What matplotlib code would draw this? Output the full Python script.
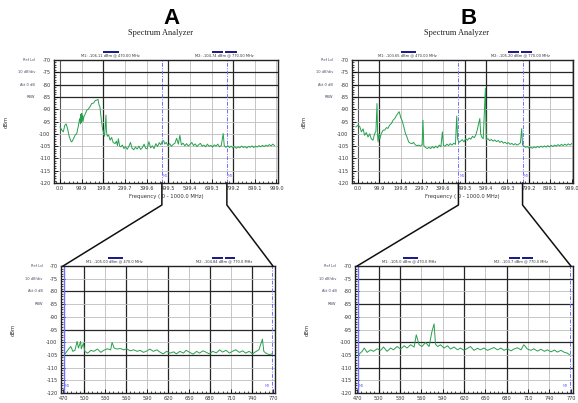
import matplotlib
matplotlib.use("Agg")
import matplotlib.pyplot as plt
from matplotlib.lines import Line2D
from matplotlib.patches import Rectangle
from matplotlib.ticker import AutoMinorLocator

# ---------------- data ----------------
panel_letters = ["A", "B"]
panel_title = "Spectrum Analyzer"
y_ticks = [-70, -75, -80, -85, -90, -95, -100, -105, -110, -115, -120]
top_x_ticks = [0.0, 99.9, 199.8, 299.7, 399.6, 499.5, 599.4, 699.3, 799.2, 899.1, 999.0]
top_x_labels = ["0.0", "99.9", "199.8", "299.7", "399.6", "499.5", "599.4", "699.3", "799.2", "899.1", "999.0"]
low_x_ticks = [470, 500, 530, 560, 590, 620, 650, 680, 710, 740, 770]
low_x_labels = ["470", "500", "530", "560", "590", "620", "650", "680", "710", "740", "770"]
marker_freqs = [470.0, 770.0]
side_labels = ["Ref Lvl", "10 dB/div", "Att 0 dB", "RBW"]
top_xlabel = "Frequency ( 0 - 1000.0 MHz)"

a_top_f = [0, 8, 15, 22, 28, 35, 42, 50, 54, 62, 70, 77, 84, 90, 92, 94, 96, 98, 100, 102, 104, 106,
           110, 116, 123, 130, 138, 146, 155, 162, 169, 175, 180, 184, 190, 196, 200, 205, 208, 212,
           214, 218, 224, 231, 238, 245, 254, 260, 265, 269, 275, 280, 288, 295, 302, 310, 318, 325,
           332, 340, 348, 356, 364, 372, 380, 388, 395, 402, 410, 418, 426, 434, 442, 450, 458, 465,
           472, 478, 484, 490, 498, 506, 514, 522, 530, 538, 546, 553, 560, 568, 576, 584, 592, 600,
           608, 616, 624, 632, 640, 648, 656, 664, 672, 680, 688, 696, 704, 712, 720, 728, 736, 744,
           753, 758, 766, 774, 782, 790, 798, 806, 814, 822, 830, 838, 846, 854, 862, 870, 878, 886,
           894, 902, 910, 918, 926, 934, 942, 950, 958, 966, 974, 982, 990]
a_top_db = [-97.2, -98.5, -99.2, -96.5, -96.0, -98.0, -101.0, -103.0, -103.3, -102.0, -100.5, -99.9,
            -97.0, -94.0, -93.8, -96.0, -92.0, -95.5, -91.7, -94.5, -92.5, -95.0, -93.0, -92.0, -90.4,
            -90.0, -89.0, -87.7, -87.5, -86.5, -86.3, -86.0, -88.3, -89.0, -94.0, -98.0, -99.2, -101.0,
            -98.0, -92.4, -99.0, -101.0, -100.5, -102.6, -101.5, -103.5, -104.0, -103.0, -104.8, -102.0,
            -105.0, -105.3, -104.6, -106.0, -105.2, -106.3, -105.0, -103.5, -105.8, -106.5, -105.4,
            -106.2, -105.0, -106.4, -105.6, -104.2, -105.9, -106.1, -103.2, -105.7, -104.9, -106.0,
            -104.0, -105.2, -103.6, -104.5, -103.0, -102.8, -104.2, -103.5, -104.8, -104.0, -105.1,
            -104.3, -103.9, -101.8, -104.2, -100.6, -104.5, -103.8, -104.9, -104.0, -105.0, -104.3,
            -103.5, -104.8, -104.1, -105.2, -104.4, -103.9, -105.0, -104.6, -105.3, -104.2, -105.1,
            -104.7, -105.4, -104.5, -105.0, -104.2, -105.3, -104.8, -99.9, -104.9, -105.5, -104.8,
            -105.6, -105.0, -105.8, -105.2, -105.9, -105.3, -105.7, -105.0, -105.6, -105.2, -105.8,
            -105.1, -105.5, -104.9, -105.6, -105.0, -105.4, -104.8, -105.3, -104.7, -105.2, -104.6,
            -105.0, -104.4, -104.9, -104.2, -104.8]

b_top_f = [-10, 0, 8, 16, 24, 31, 39, 47, 55, 62, 70, 78, 84, 89, 92, 94, 98, 102, 109, 118, 125, 133,
           140, 148, 156, 164, 172, 180, 187, 192, 196, 200, 206, 214, 222, 230, 237, 245, 253, 260,
           268, 276, 284, 292, 300, 304, 308, 316, 324, 332, 340, 348, 356, 364, 372, 380, 388, 395,
           400, 408, 416, 424, 432, 440, 448, 456, 462, 466, 472, 480, 488, 496, 504, 512, 520, 528,
           536, 544, 551, 558, 564, 570, 574, 580, 586, 596, 600, 608, 616, 624, 632, 640, 648, 656,
           664, 672, 680, 688, 696, 704, 712, 720, 728, 736, 744, 752, 760, 766, 770, 776, 784, 792,
           800, 808, 816, 824, 832, 840, 848, 856, 864, 872, 880, 888, 896, 904, 912, 920, 928, 936,
           944, 952, 960, 968, 976, 984, 992, 1000]
b_top_db = [-97.2, -96.5, -97.0, -99.2, -98.0, -100.6, -99.5, -101.3, -100.0, -102.0, -102.6, -100.0,
            -99.0, -87.7, -101.0, -103.3, -100.0, -102.0, -99.9, -98.5, -98.5, -97.5, -97.8, -96.5,
            -95.8, -94.5, -93.8, -92.5, -91.7, -91.0, -92.0, -93.5, -94.5, -97.0, -99.9, -101.5,
            -103.3, -103.8, -104.0, -103.5, -104.5, -104.8, -104.6, -105.0, -104.4, -94.5, -104.8,
            -105.6, -106.0, -105.5, -106.0, -105.2, -105.8, -105.0, -105.7, -104.6, -105.3, -99.2,
            -104.8, -105.0, -104.2, -104.8, -104.0, -104.6, -103.8, -104.3, -92.8, -102.0, -103.5,
            -103.0, -102.4, -103.3, -102.0, -102.6, -101.7, -102.2, -101.0, -101.6, -100.5, -98.5,
            -96.0, -93.8, -100.0, -101.5, -102.0, -81.5, -102.5, -102.0, -102.8, -102.3, -103.0,
            -102.5, -103.2, -102.7, -103.5, -103.0, -103.8, -103.4, -104.0, -103.6, -104.3, -103.9,
            -104.5, -104.0, -104.6, -104.2, -103.7, -97.9, -104.5, -105.0, -105.5, -105.2, -105.8,
            -105.4, -105.9, -105.3, -105.7, -105.1, -105.6, -105.0, -105.5, -104.9, -105.4, -104.8,
            -105.3, -104.7, -105.2, -104.6, -105.0, -104.4, -104.9, -104.3, -104.8, -104.2, -104.7,
            -104.1, -104.6, -104.0]

a_low_f = [472, 477, 479, 481, 484, 487, 490, 492, 495, 496, 499, 501, 505, 510, 514, 519, 524, 528,
           533, 538, 540, 543, 547, 552, 557, 561, 566, 571, 576, 580, 585, 590, 594, 599, 604, 609,
           613, 618, 623, 628, 632, 637, 642, 646, 651, 656, 661, 665, 670, 675, 679, 684, 689, 694,
           698, 703, 708, 712, 717, 722, 727, 731, 736, 741, 745, 750, 755, 757, 760, 764, 769]
a_low_db = [-104.9, -103.0, -102.3, -101.7, -103.6, -103.2, -99.7, -102.3, -99.7, -102.6, -100.4,
            -103.6, -104.3, -103.2, -103.6, -102.7, -104.0, -103.2, -102.6, -103.0, -100.1, -102.3,
            -102.7, -102.5, -103.0, -102.6, -103.4, -103.0, -103.6, -103.2, -104.0, -103.4, -102.7,
            -103.6, -103.0, -104.0, -104.6, -103.6, -104.3, -103.8, -104.6, -103.6, -104.3, -103.2,
            -104.0, -104.7, -103.6, -104.3, -103.4, -104.0, -104.6, -103.6, -104.2, -103.0, -103.9,
            -103.2, -104.3, -103.6, -103.0, -104.0, -103.4, -104.3, -103.6, -104.6, -103.8, -103.0,
            -98.8, -103.6, -104.3, -104.9, -104.6]

b_low_f = [472, 477, 480, 484, 489, 493, 498, 503, 507, 512, 517, 521, 526, 531, 536, 540, 545, 550,
           553, 557, 561, 566, 571, 575, 578, 580, 583, 587, 592, 597, 601, 606, 611, 615, 620, 625,
           629, 634, 639, 643, 648, 653, 658, 662, 667, 672, 676, 681, 686, 690, 695, 700, 704, 709,
           714, 718, 723, 728, 733, 737, 742, 747, 751, 756, 761, 765, 768]
b_low_db = [-104.9, -103.6, -102.3, -104.0, -103.0, -103.6, -102.6, -103.2, -101.9, -103.6, -102.3,
            -103.0, -101.7, -102.7, -101.4, -102.3, -101.0, -101.9, -97.1, -101.0, -101.7, -100.1,
            -101.7, -95.8, -92.8, -100.8, -101.7, -101.0, -102.3, -101.4, -102.7, -101.9, -103.0,
            -102.3, -103.2, -102.4, -101.7, -103.2, -102.4, -103.0, -102.3, -103.2, -102.6, -102.1,
            -103.0, -102.3, -103.2, -102.6, -103.4, -102.7, -102.2, -103.0, -101.0, -102.7, -103.2,
            -102.6, -103.5, -102.8, -103.6, -103.0, -103.8, -103.1, -103.9, -103.2, -104.0, -104.3,
            -104.9]

marker_texts_top = [["M1: -106.11 dBm @ 470.00 MHz", "M2: -104.74 dBm @ 770.00 MHz"],
                    ["M1: -103.65 dBm @ 470.00 MHz", "M2: -105.20 dBm @ 770.00 MHz"]]
marker_texts_low = [["M1: -105.00 dBm @ 470.0 MHz", "M2: -104.84 dBm @ 770.0 MHz"],
                    ["M1: -105.0 dBm @ 470.0 MHz", "M2: -103.7 dBm @ 770.0 MHz"]]

# ---------------- figure ----------------
W, H = 578, 403
fig = plt.figure(figsize=(W / 100, H / 100), dpi=100)
fig.patch.set_facecolor("white")

def px_axes(l, r, t, b):
    return fig.add_axes([l / W, 1 - b / H, (r - l) / W, (b - t) / H])

axes = {
    ("A", "top"): px_axes(54, 278, 60, 183),
    ("B", "top"): px_axes(352, 573, 60, 183),
    ("A", "low"): px_axes(61, 275, 266, 393),
    ("B", "low"): px_axes(355, 573, 266, 393),
}

GREEN = "#27a04e"
MARK = "#6f6fff"
NAVY = "#1c1c8a"
TXT = "#333333"

dark_h = {("A", "top"): [-75, -80, -85], ("B", "top"): [-75, -80, -85],
          ("A", "low"): [-80, -95, -105], ("B", "low"): [-75, -85, -100, -110]}
dark_v = {("A", "top"): [2, 5, 8], ("B", "top"): [1, 5, 6, 8],
          ("A", "low"): [1, 3, 5, 7, 9], ("B", "low"): [1, 2, 5, 7]}

def style_axes(ax, key, xt, xl, xlim):
    ax.set_xlim(*xlim)
    ax.set_ylim(-120, -70)
    for i, x in enumerate(xt):
        if key[1] == "low" and (i == 0 or i == len(xt) - 1):
            continue
        if i in dark_v[key]:
            c, lw = "#262626", 0.9
        elif i == 0:
            c, lw = "#555555", 0.8
        else:
            c, lw = "#bdbdbd", 0.6
        ax.axvline(x, color=c, lw=lw, zorder=1)
    for y in y_ticks[1:-1]:
        c, lw = ("#262626", 0.9) if y in dark_h[key] else ("#bdbdbd", 0.6)
        ax.axhline(y, color=c, lw=lw, zorder=1)
    ax.set_xticks(xt)
    ax.set_xticklabels(xl)
    ax.set_yticks(y_ticks)
    ax.set_yticklabels([str(v) for v in y_ticks])
    ax.xaxis.set_minor_locator(AutoMinorLocator(5))
    ax.yaxis.set_minor_locator(AutoMinorLocator(5))
    ax.tick_params(axis="both", which="major", direction="in", length=3, width=0.6,
                   labelsize=3.6, labelcolor=TXT, pad=2.5)
    ax.tick_params(axis="both", which="minor", direction="in", length=1.5, width=0.5)
    for s in ax.spines.values():
        s.set_linewidth(1.0)
        s.set_color("#222222")
    ax.set_ylabel("dBm", fontsize=3.8, color=TXT, labelpad=22)
    # side descriptor labels
    for txt, yv in zip(side_labels, y_ticks[:4]):
        ax.text(-0.085, yv, txt, transform=ax.get_yaxis_transform(), ha="right",
                va="center", fontsize=2.6, color="#4a4a6a")
    # navy marker bars
    for x0, x1 in [(0.22, 0.29), (0.705, 0.755), (0.765, 0.815)]:
        ax.add_patch(Rectangle((x0, 1.055), x1 - x0, 0.018, transform=ax.transAxes,
                               color=NAVY, clip_on=False, lw=0))

for k, letter in enumerate(panel_letters):
    ax_t = axes[(letter, "top")]
    ax_l = axes[(letter, "low")]
    style_axes(ax_t, (letter, "top"), top_x_ticks, top_x_labels, (-28, 1006))
    style_axes(ax_l, (letter, "low"), low_x_ticks, low_x_labels, (467, 773))
    ax_t.set_xlabel(top_xlabel, fontsize=3.8, color=TXT, labelpad=2)

    tf = a_top_f if letter == "A" else b_top_f
    td = a_top_db if letter == "A" else b_top_db
    lf = a_low_f if letter == "A" else b_low_f
    ld = a_low_db if letter == "A" else b_low_db
    ax_t.plot(tf, td, color=GREEN, lw=0.7, zorder=3)
    ax_l.plot(lf, ld, color=GREEN, lw=0.7, zorder=3)

    for ax, texts in [(ax_t, marker_texts_top[k]), (ax_l, marker_texts_low[k])]:
        ax.text(0.25, 1.02, texts[0], transform=ax.transAxes, fontsize=2.6,
                ha="center", va="bottom", color=TXT)
        ax.text(0.76, 1.02, texts[1], transform=ax.transAxes, fontsize=2.6,
                ha="center", va="bottom", color=TXT)

    # marker lines
    for j, mf in enumerate(marker_freqs):
        ax_t.axvline(mf, color=MARK, lw=0.7, ls=(0, (4, 1.5, 1, 1.5)), zorder=2)
        ax_t.text(mf + 4, -117.5, "M%d" % (j + 1), fontsize=2.6, color=MARK, ha="left")
    ax_l.axvline(marker_freqs[0] + 1, color=MARK, lw=1.0, zorder=2)
    ax_l.axvline(marker_freqs[1] - 1, color=MARK, lw=0.7, ls=(0, (4, 1.5, 1, 1.5)), zorder=2)
    ax_l.text(472, -117.5, "M1", fontsize=2.6, color=MARK, ha="left")
    ax_l.text(766, -117.5, "M2", fontsize=2.6, color=MARK, ha="right")

    # titles
    cx = (ax_t.get_position().x0 + ax_t.get_position().x1) / 2
    fig.text(cx + 0.01, 1 - 18 / H, letter, fontsize=16, fontweight="bold",
             family="Liberation Sans", ha="center", va="center")
    fig.text(cx - 0.01, 1 - 33 / H, panel_title, fontsize=6, family="Liberation Serif",
             ha="center", va="center", color="#222222")

    # connector lines
    inv = fig.transFigure.inverted()
    for j, mf in enumerate(marker_freqs):
        p0 = inv.transform(ax_t.transData.transform((mf, -120)))
        p1 = (p0[0], 1 - 205 / H)
        p2 = inv.transform(ax_l.transData.transform((mf, -70)))
        fig.add_artist(Line2D([p0[0], p1[0], p2[0]], [p0[1], p1[1], p2[1]],
                              transform=fig.transFigure, color="#111111", lw=1.1))

fig.savefig("out.png", dpi=100, facecolor="white")
